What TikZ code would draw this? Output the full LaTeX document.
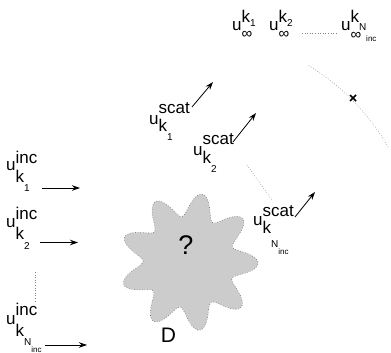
\documentclass[tikz,border=0pt]{standalone}
\usepackage{fontspec}
\setmainfont{Liberation Sans}
\usetikzlibrary{arrows.meta,calc}
\newcommand{\fA}{\fontsize{17}{18}\selectfont}
\newcommand{\fB}{\fontsize{10}{11}\selectfont}
\newcommand{\fC}{\fontsize{8}{9}\selectfont}
\newcommand{\fD}{\fontsize{15}{16}\selectfont}
\newcommand{\fQ}{\fontsize{27}{28}\selectfont}
\newcommand{\fE}{\fontsize{21}{23}\selectfont}
\newcommand{\Ninc}{N\raisebox{-7pt}{\fC inc}}
\tikzset{
  lab/.style={anchor=base west, inner sep=0pt, font=\fA},
  arr/.style={line width=0.8pt, -{Stealth[length=8pt,width=5.5pt]}},
  dots/.style={gray, line width=0.6pt, dash pattern=on 0.6pt off 2pt},
}
\begin{document}
\begin{tikzpicture}[x=1pt,y=-1pt]
\useasboundingbox (0,0) rectangle (391,353);
% scatterer
\fill[black!20] plot[domain=0:360, samples=400] ({189+(57.5+11.5*cos(9*(\x+1)))*cos(\x)}, {262-(57.5+11.5*cos(9*(\x+1)))*sin(\x)}) -- cycle;
\draw[dots, black!60] plot[domain=0:360, samples=400] ({189+(57.5+11.5*cos(9*(\x+1)))*cos(\x)}, {262-(57.5+11.5*cos(9*(\x+1)))*sin(\x)}) -- cycle;
\node[inner sep=0pt, font=\fQ] (q) at (186,245) {?};
\node[inner sep=0pt, font=\fE] (D) at (168.5,335.5) {D};
% incident labels
\node[lab] (i1) at (6,170) {u\rlap{\raisebox{7pt}{inc}}\raisebox{-12pt}{k\raisebox{-9pt}{\fB 1}}};
\node[lab] (i2) at (6,227) {u\rlap{\raisebox{8pt}{inc}}\raisebox{-12pt}{k\raisebox{-10pt}{\fB 2}}};
\node[lab] (i3) at (6,324) {u\rlap{\raisebox{9pt}{inc}}\raisebox{-12pt}{k\raisebox{-9pt}{\fB\Ninc}}};
\coordinate (i1s) at (42,188); \coordinate (i1e) at (80,188);
\coordinate (i2s) at (40,242.5); \coordinate (i2e) at (78,242.5);
\coordinate (i3s) at (45,345); \coordinate (i3e) at (87,345);
\draw[arr] (i1s) -- (i1e);
\draw[arr] (i2s) -- (i2e);
\draw[arr] (i3s) -- (i3e);
\coordinate (v1) at (35,272); \coordinate (v2) at (35,303);
\draw[dots] (v1) -- (v2);
% scattered labels
\node[lab] (s1) at (149,124) {u\rlap{\raisebox{10pt}{scat}}\raisebox{-8pt}{k\raisebox{-9pt}{\fB 1}}};
\node[lab] (s2) at (193,155) {u\rlap{\raisebox{11pt}{scat}}\raisebox{-8pt}{k\raisebox{-9pt}{\fB 2}}};
\node[lab] (s3) at (253,225) {u\rlap{\raisebox{9pt}{scat}}\raisebox{-8pt}{k\raisebox{-14pt}{\fB\Ninc}}};
\coordinate (s1s) at (192,107); \coordinate (s1e) at (213,82);
\coordinate (s2s) at (233,142); \coordinate (s2e) at (256,113);
\coordinate (s3s) at (295,217); \coordinate (s3e) at (315,192);
\draw[arr] (s1s) -- (s1e);
\draw[arr] (s2s) -- (s2e);
\draw[arr] (s3s) -- (s3e);
\coordinate (d1) at (247,165); \coordinate (d2) at (272,200);
\draw[dots] (d1) -- (d2);
% far field labels
\node[lab] (f1) at (232,31) {u\rlap{\raisebox{9pt}{k\raisebox{-5pt}{\fB 1}}}\raisebox{-8pt}{\fD ∞}};
\node[lab] (f2) at (269,31) {u\rlap{\raisebox{9pt}{k\raisebox{-5pt}{\fB 2}}}\raisebox{-8pt}{\fD ∞}};
\node[lab] (f3) at (341,31) {u\rlap{\raisebox{9pt}{k\raisebox{-8pt}{\fB N}}}\raisebox{-8.5pt}{\fD ∞\raisebox{-2pt}{\fC\,\, inc}}};
\coordinate (h1) at (302,33); \coordinate (h2) at (337,33);
\draw[dots] (h1) -- (h2);
% far-field arc
\draw[dots] plot[domain=30:59, samples=60] ({189+230*cos(\x)}, {262-230*sin(\x)});
\coordinate (xm) at (353,98);
\draw[line width=1.7pt] ($(xm)+(-3,-3)$) -- ($(xm)+(3,3)$);
\draw[line width=1.7pt] ($(xm)+(-3,3)$) -- ($(xm)+(3,-3)$);
\end{tikzpicture}
\end{document}
